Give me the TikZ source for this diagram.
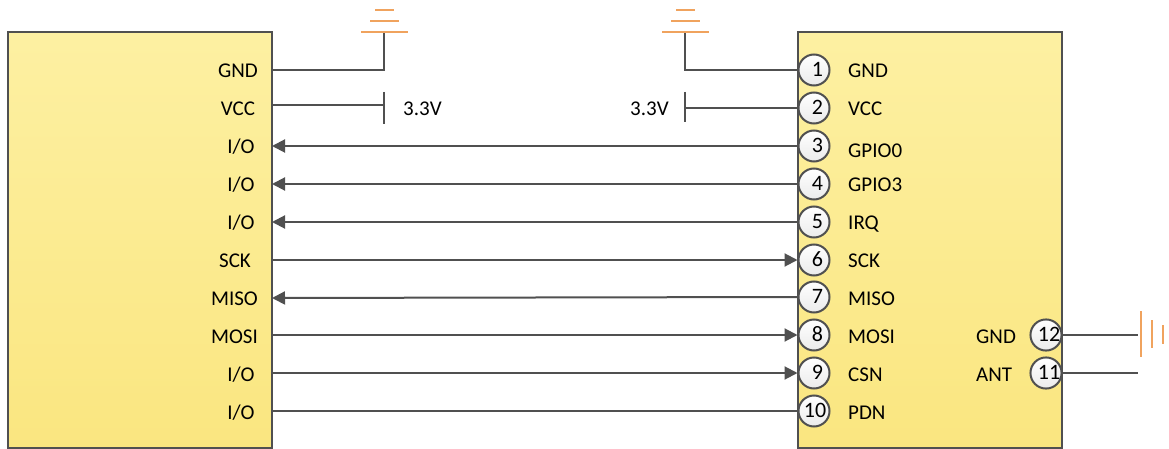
\documentclass[tikz,border=0pt]{standalone}
\usepackage{fontspec}
\setmainfont{Carlito}
\usetikzlibrary{arrows.meta}
\definecolor{wirecol}{HTML}{505050}
\definecolor{gndcol}{HTML}{F0A35E}
\definecolor{chiptop}{HTML}{FDF0A2}
\definecolor{chipbot}{HTML}{FAE680}
\begin{document}
\begin{tikzpicture}[x=1pt,y=-1pt,font=\fontsize{21}{24}\selectfont,
chip/.style={draw=wirecol,line width=2pt,rectangle,minimum width=264pt,minimum height=416pt,inner sep=0pt,top color=chiptop,bottom color=chipbot},
pin/.style={draw=wirecol,line width=2pt,circle,minimum size=31pt,inner sep=0pt,text height=13pt,text depth=0pt,top color=white,bottom color=black!8,font=\fontsize{22}{24}\selectfont},
lb/.style={inner sep=0pt,text height=13pt,text depth=0pt},
ll/.style={lb,anchor=west},
wr/.style={draw=wirecol,line width=2pt},
ar/.style={wr,-{Triangle[length=13pt,width=13pt]}},
gb/.style={draw=gndcol,line width=2pt}]
\useasboundingbox (0,0) rectangle (1169,449);
\node[chip] (host) at (140,240) {};
\node[chip] (rfmod) at (930,240) {};
% left labels
\node[lb] (h1) at (238,71) {GND};
\node[lb] (h2) at (238,109) {VCC};
\node[lb] (h3) at (241,147) {I/O};
\node[lb] (h4) at (241,185) {I/O};
\node[lb] (h5) at (241,223) {I/O};
\node[lb] (h6) at (235,261) {SCK};
\node[lb] (h7) at (234.5,299) {MISO};
\node[lb] (h8) at (234.5,337) {MOSI};
\node[lb] (h9) at (241,375) {I/O};
\node[lb] (h10) at (241,413) {I/O};
% left edge points
\coordinate (l1) at (272,70);
\coordinate (l2) at (272,105);
\coordinate (l3) at (272,146);
\coordinate (l4) at (272,184);
\coordinate (l5) at (272,222);
\coordinate (l6) at (272,260);
\coordinate (l7) at (272,298);
\coordinate (l8) at (272,335);
\coordinate (l9) at (272,373);
\coordinate (l10) at (272,411);
% pins
\node[pin] (p1) at (814,70) {\kern7pt 1};
\node[pin] (p2) at (814,108) {\kern7pt 2};
\node[pin] (p3) at (814,146) {\kern7pt 3};
\node[pin] (p4) at (814,184) {\kern7pt 4};
\node[pin] (p5) at (814,222) {\kern7pt 5};
\node[pin] (p6) at (814,260) {\kern7pt 6};
\node[pin] (p7) at (814,297) {\kern7pt 7};
\node[pin] (p8) at (814,335) {\kern7pt 8};
\node[pin] (p9) at (814,373) {\kern7pt 9};
\node[pin] (p10) at (814,411) {\kern2pt 10};
\node[pin] (p12) at (1046,335) {\kern6pt 12};
\node[pin] (p11) at (1046,373) {\kern6pt 11};
% right labels
\node[ll] (m1) at (848,71) {GND};
\node[ll] (m2) at (848,109) {VCC};
\node[ll] (m3) at (848,151) {GPIO0};
\node[ll] (m4) at (848,185) {GPIO3};
\node[ll] (m5) at (848,223) {IRQ};
\node[ll] (m6) at (848,261) {SCK};
\node[ll] (m7) at (848,299) {MISO};
\node[ll] (m8) at (848,337) {MOSI};
\node[ll] (m9) at (848,375) {CSN};
\node[ll] (m10) at (848,413) {PDN};
\node[ll] (m12) at (976,337) {GND};
\node[ll] (m11) at (976,375) {ANT};
% supply
\coordinate (g1) at (384,32);
\coordinate (g2) at (685,32);
\coordinate (v1) at (384,105);
\coordinate (v2) at (685,108);
\coordinate (a1) at (1138,335);
\coordinate (a2) at (1138,373);
\node[ll] (v1t) at (403,109) {3.3V};
\node[ll] (v2t) at (630,109) {3.3V};
\draw[wr] (l1) -| (g1);
\draw[wr] (g2) |- (p1.west);
\draw[wr] (l2) -- (v1);
\draw[wr] (v2) -- (p2.west);
\draw[wr] (384,92) -- (384,124);
\draw[wr] (685,92) -- (685,122);
\draw[gb] (361,32) -- (408,32) (370,21) -- (399,21) (375,10) -- (394,10);
\draw[gb] (662,32) -- (709,32) (671,21) -- (700,21) (676,10) -- (695,10);
\draw[gb] (1141,311) -- (1141,357) (1152,320) -- (1152,348) (1163,325) -- (1163,344);
% signals
\draw[ar] (p3.west) -- (l3);
\draw[ar] (p4.west) -- (l4);
\draw[ar] (p5.west) -- (l5);
\draw[ar] (l6) -- (p6.west);
\draw[ar] (p7.west) -- (l7);
\draw[ar] (l8) -- (p8.west);
\draw[ar] (l9) -- (p9.west);
\draw[wr] (l10) -- (p10.west);
\draw[wr] (p12.east) -- (a1);
\draw[wr] (p11.east) -- (a2);
\end{tikzpicture}
\end{document}
